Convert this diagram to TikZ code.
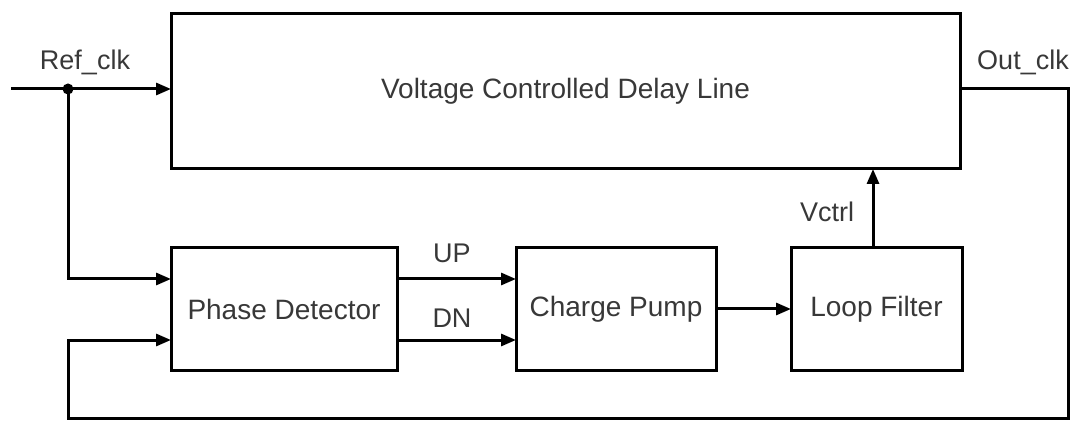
\documentclass[tikz,border=0pt]{standalone}
\usepackage{fontspec}
\setmainfont{Liberation Sans}
\usetikzlibrary{arrows.meta,calc}
\definecolor{txt}{HTML}{383838}
\begin{document}
\begin{tikzpicture}[x=1pt,y=1pt,
  box/.style={draw=black,line width=3pt,rectangle,inner sep=0pt,outer sep=0pt,
    font=\fontsize{28}{33}\selectfont,text=txt},
  lbl/.style={font=\fontsize{27}{31}\selectfont,text=txt,inner sep=0pt},
  wire/.style={line width=3pt,line join=miter},
  arr/.style={wire,-{Triangle[length=15pt,width=12pt]}}]
\useasboundingbox (0,0) rectangle (1072,421);
\node[box,minimum width=789pt,minimum height=155pt] (vcdl) at (565.5,329.5) {Voltage Controlled Delay Line};
\node[box,minimum width=226pt,minimum height=122pt] (pd) at (284,112) {Phase Detector};
\node[box,minimum width=200pt,minimum height=122pt] (cp) at (616,112) {Charge Pump};
\node[box,minimum width=171pt,minimum height=122pt] (lf) at (876.5,112) {Loop Filter};
\coordinate (in) at (11,332);
\coordinate (j) at (68,332);
\coordinate (upy) at (0,142);
\coordinate (dny) at (0,81);
\coordinate (r) at (1068,332);
\coordinate (br) at (1068,3);
\coordinate (bl) at (68,3);
\fill (j) circle (5.5pt);
\draw[arr] (in) -- (j -| vcdl.west);
\draw[arr] (j) |- (upy -| pd.west);
\draw[arr] (pd.east |- upy) -- (cp.west |- upy);
\draw[arr] (pd.east |- dny) -- (cp.west |- dny);
\draw[arr] (cp.east) -- (lf.west);
\draw[arr] ([xshift=-3.5pt]lf.north) -- ([xshift=-3.5pt]lf.north |- vcdl.south);
\draw[arr] (vcdl.east |- r) -- (r) -- (br) -- (bl) |- (dny -| pd.west);
\node[lbl] (ref) at (85,359) {Ref\_clk};
\node[lbl] (out) at (1023,359) {Out\_clk};
\node[lbl] (up) at (452,168) {UP};
\node[lbl] (dn) at (452,103) {DN};
\node[lbl] (vc) at (827,209) {Vctrl};
\end{tikzpicture}
\end{document}
